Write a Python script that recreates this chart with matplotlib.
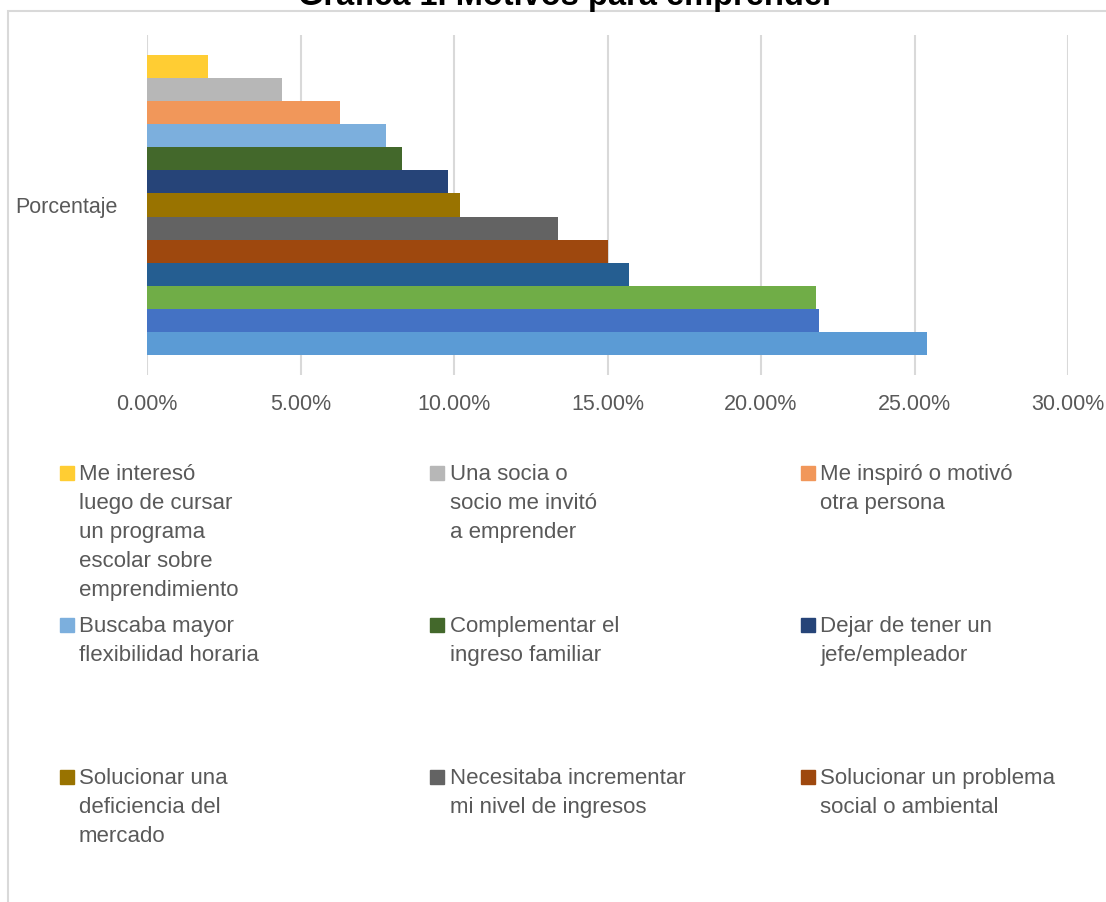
import matplotlib.pyplot as plt
from matplotlib.patches import Rectangle

# Datos (serie 1 abajo, serie 13 arriba), porcentajes
valores = [25.4, 21.9, 21.8, 15.7, 15.0, 13.4, 10.2, 9.8, 8.3, 7.8, 6.3, 4.4, 2.0]
colores = ['#5B9BD5', '#4472C4', '#70AD47', '#255E91', '#9E480E', '#636363',
           '#997300', '#264478', '#43682B', '#7CAFDD', '#F1975A', '#B7B7B7', '#FFCD33']

# Leyenda visible (de la serie 13 hacia abajo)
etiquetas = [
    "Me interesó\nluego de cursar\nun programa\nescolar sobre\nemprendimiento",
    "Una socia o\nsocio me invitó\na emprender",
    "Me inspiró o motivó\notra persona",
    "Buscaba mayor\nflexibilidad horaria",
    "Complementar el\ningreso familiar",
    "Dejar de tener un\njefe/empleador",
    "Solucionar una\ndeficiencia del\nmercado",
    "Necesitaba incrementar\nmi nivel de ingresos",
    "Solucionar un problema\nsocial o ambiental",
]
ticks_x = [0, 5, 10, 15, 20, 25, 30]

plt.rcParams['font.family'] = ['Liberation Sans', 'DejaVu Sans']
gris_texto = '#595959'
gris_linea = '#D9D9D9'

W, H = 1106, 902
fig = plt.figure(figsize=(W / 100, H / 100), dpi=100)

def fx(px):
    return px / W

def fy(py):
    return 1 - py / H

# Marco del gráfico (recortado)
fig.patches.append(Rectangle((fx(8), fy(1000)), fx(1200), fy(11) - fy(1000),
                             transform=fig.transFigure, fill=False,
                             edgecolor=gris_linea, linewidth=1.5))

# Título (cortado arriba)
fig.text(fx(298), fy(5), "Gráfica 1. Motivos para emprender", fontsize=23.5,
         fontweight='bold', ha='left', va='baseline', color='black')

# Área del gráfico
ax = fig.add_axes([fx(147), fy(375), fx(1068) - fx(147), fy(35) - fy(375)])
n = len(valores)
pos = list(range(n))
ax.barh(pos, valores, height=1.0, color=colores, zorder=3)
pad = 20 / (300 / n)
ax.set_ylim(-0.5 - pad, n - 0.5 + pad)
ax.set_xlim(0, 30)
ax.set_xticks(ticks_x)
ax.set_xticklabels([f"{t:.2f}%" for t in ticks_x])
ax.set_yticks([(n - 1) / 2])
ax.set_yticklabels(['Porcentaje'])
ax.tick_params(axis='x', length=0, pad=14, labelsize=15.5, labelcolor=gris_texto)
ax.tick_params(axis='y', length=0, pad=21, labelsize=15.5, labelcolor=gris_texto)
ax.grid(axis='x', color=gris_linea, linewidth=1.5, zorder=0)
for s in ax.spines.values():
    s.set_visible(False)

# Leyenda manual: 3 columnas
col_marca = [60, 430, 801]
col_texto = [79, 450, 820]
fila_base = [480, 632, 784]
salto = 29
for i, etq in enumerate(etiquetas):
    c, f = i % 3, i // 3
    color = colores[n - 1 - i]
    y0 = fila_base[f]
    fig.patches.append(Rectangle((fx(col_marca[c]), fy(y0)), fx(14), fy(y0 - 14) - fy(y0),
                                 transform=fig.transFigure, color=color))
    for k, linea in enumerate(etq.split('\n')):
        fig.text(fx(col_texto[c]), fy(y0 + k * salto), linea, fontsize=16,
                 color=gris_texto, ha='left', va='baseline')

fig.savefig('out.png', dpi=100, facecolor='white')
